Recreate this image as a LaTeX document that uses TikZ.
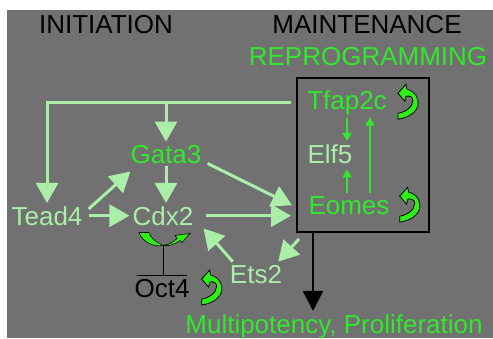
\documentclass[tikz,border=0pt]{standalone}
\usepackage{fontspec}
\setmainfont{Liberation Sans}
\usetikzlibrary{arrows.meta, positioning}
\definecolor{bggray}{RGB}{113, 113, 113}
\definecolor{palegreen}{RGB}{170, 238, 168}
\definecolor{brightgreen}{RGB}{50, 232, 45}
\definecolor{loopgreen}{RGB}{45, 240, 20}

\tikzset{
  lbl/.style={font=\fontsize{26}{30}\selectfont, anchor=base, inner sep=3pt},
  flow/.style={palegreen, line width=3pt, -{Triangle[length=20pt, width=22pt]}},
  inbox/.style={brightgreen, line width=2pt, -{Triangle[length=8pt, width=9pt]}},
  result/.style={black, line width=2pt, -{Triangle[length=20pt, width=20pt]}},
  repress/.style={black, line width=1pt},
  selfloop/.pic={
    \filldraw[fill=loopgreen, draw=black, line width=0.8pt]
      (-10,-9) -- (-2,-18) -- (-1,-13)
      .. controls (10,-11) and (14,3) .. (6,10)
      .. controls (2,14) and (-4,16) .. (-10,17)
      -- (-10,11)
      .. controls (-3,10) and (5,5) .. (5,-2)
      .. controls (5,-5) and (2,-7) .. (-2,-6)
      -- (-3,-1) -- cycle;
  }
}

\begin{document}
\begin{tikzpicture}[x=1pt, y=-1pt]
  % Background
  \fill[white] (0,0) rectangle (493,338);
  \fill[bggray] (7,10) rectangle (493,338);
  \useasboundingbox (0,0) rectangle (493,338);

  % Headings
  \node[lbl] (init) at (106,33) {INITIATION};
  \node[lbl] (maint) at (367,33) {MAINTENANCE};
  \node[lbl, brightgreen] (reprog) at (368,65) {REPROGRAMMING};

  % Reprogramming box
  \node[draw=black, line width=2pt, minimum width=132pt, minimum height=154pt, inner sep=0pt] (repro) at (363,155) {};
  \node[lbl, brightgreen] (tfap2c) at (347,109) {Tfap2c};
  \node[lbl, palegreen] (elf5) at (330,163) {Elf5};
  \node[lbl, brightgreen] (eomes) at (349,214) {Eomes};

  % Initiation
  \node[lbl, brightgreen] (gata3) at (166,163) {Gata3};
  \node[lbl, palegreen] (tead4) at (47,225) {Tead4};
  \node[lbl, palegreen] (cdx2) at (163,225) {Cdx2};
  \node[lbl, palegreen] (ets2) at (256,283) {Ets2};
  \node[lbl] (oct4) at (162,297) {Oct4};

  % Outcome
  \node[lbl, brightgreen] (multi) at (334,333) {Multipotency, Proliferation};

  % Feedback from the box
  \draw[flow] ([xshift=-5pt]repro.west |- tfap2c) -| (tead4.north);
  \draw[flow] (gata3.north |- tfap2c) -- (gata3.north);

  % Initiation arrows
  \draw[flow] ([shift={(3,6)}]tead4.north east) -- ([shift={(3,5)}]gata3.south west);
  \draw[flow, shorten <=3pt] (tead4.east) -- (cdx2.west);
  \draw[flow] (gata3.south) -- (gata3.south |- cdx2.north);
  \draw[flow] ([shift={(3,-3)}]gata3.south east) -- ([xshift=-4pt]repro.west |- eomes);
  \draw[flow, shorten <=9pt] (cdx2.east) -- ([xshift=-5pt]cdx2.east -| repro.west);
  \draw[flow] ([xshift=6pt]ets2.north west) -- ([xshift=7pt]cdx2.south east);
  \draw[flow] ([shift={(3,6)}]repro.south west) -- ([xshift=-7pt]ets2.north east);

  % Inside the box
  \draw[inbox] (tfap2c.south) -- (tfap2c.south |- elf5.north);
  \draw[inbox, shorten >=3pt] ([xshift=-2pt]eomes.north) -- ([xshift=-2pt]eomes.north |- elf5.south);
  \draw[inbox] ([xshift=21pt]eomes.north) -- ([xshift=21pt]eomes.north |- tfap2c.south);

  % Self loops
  \pic at ([xshift=18pt]tfap2c.east) {selfloop};
  \pic at ([xshift=17pt]eomes.east) {selfloop};
  \pic at ([xshift=19pt]oct4.east) {selfloop};

  % Cdx2 represses Oct4
  \draw[repress] ([shift={(0,17)}]cdx2.south) -- (cdx2.south |- oct4.north);
  \draw[repress] ([xshift=-25pt]oct4.north) -- ([xshift=25pt]oct4.north);
  \filldraw[fill=loopgreen, draw=black, line width=0.6pt]
    ([shift={(-24,4)}]cdx2.south) .. controls ([shift={(-21,14)}]cdx2.south) and ([shift={(-8,19)}]cdx2.south) .. ([shift={(0,17)}]cdx2.south)
    .. controls ([shift={(-8,13)}]cdx2.south) and ([shift={(-13,9)}]cdx2.south) .. ([shift={(-14,4)}]cdx2.south) -- cycle;
  \filldraw[fill=loopgreen, draw=black, line width=0.6pt]
    ([shift={(0,17)}]cdx2.south) .. controls ([shift={(7,16)}]cdx2.south) and ([shift={(11,13)}]cdx2.south) .. ([shift={(14,10)}]cdx2.south)
    -- ([shift={(12,7)}]cdx2.south) -- ([shift={(27,5)}]cdx2.south) -- ([shift={(19,14)}]cdx2.south) -- ([shift={(17,12)}]cdx2.south)
    .. controls ([shift={(12,16)}]cdx2.south) and ([shift={(6,18)}]cdx2.south) .. ([shift={(0,17)}]cdx2.south) -- cycle;

  % Box to outcome
  \draw[result] ([xshift=17pt]repro.south west) -- ([xshift=17pt]repro.south west |- multi.north);
\end{tikzpicture}
\end{document}
